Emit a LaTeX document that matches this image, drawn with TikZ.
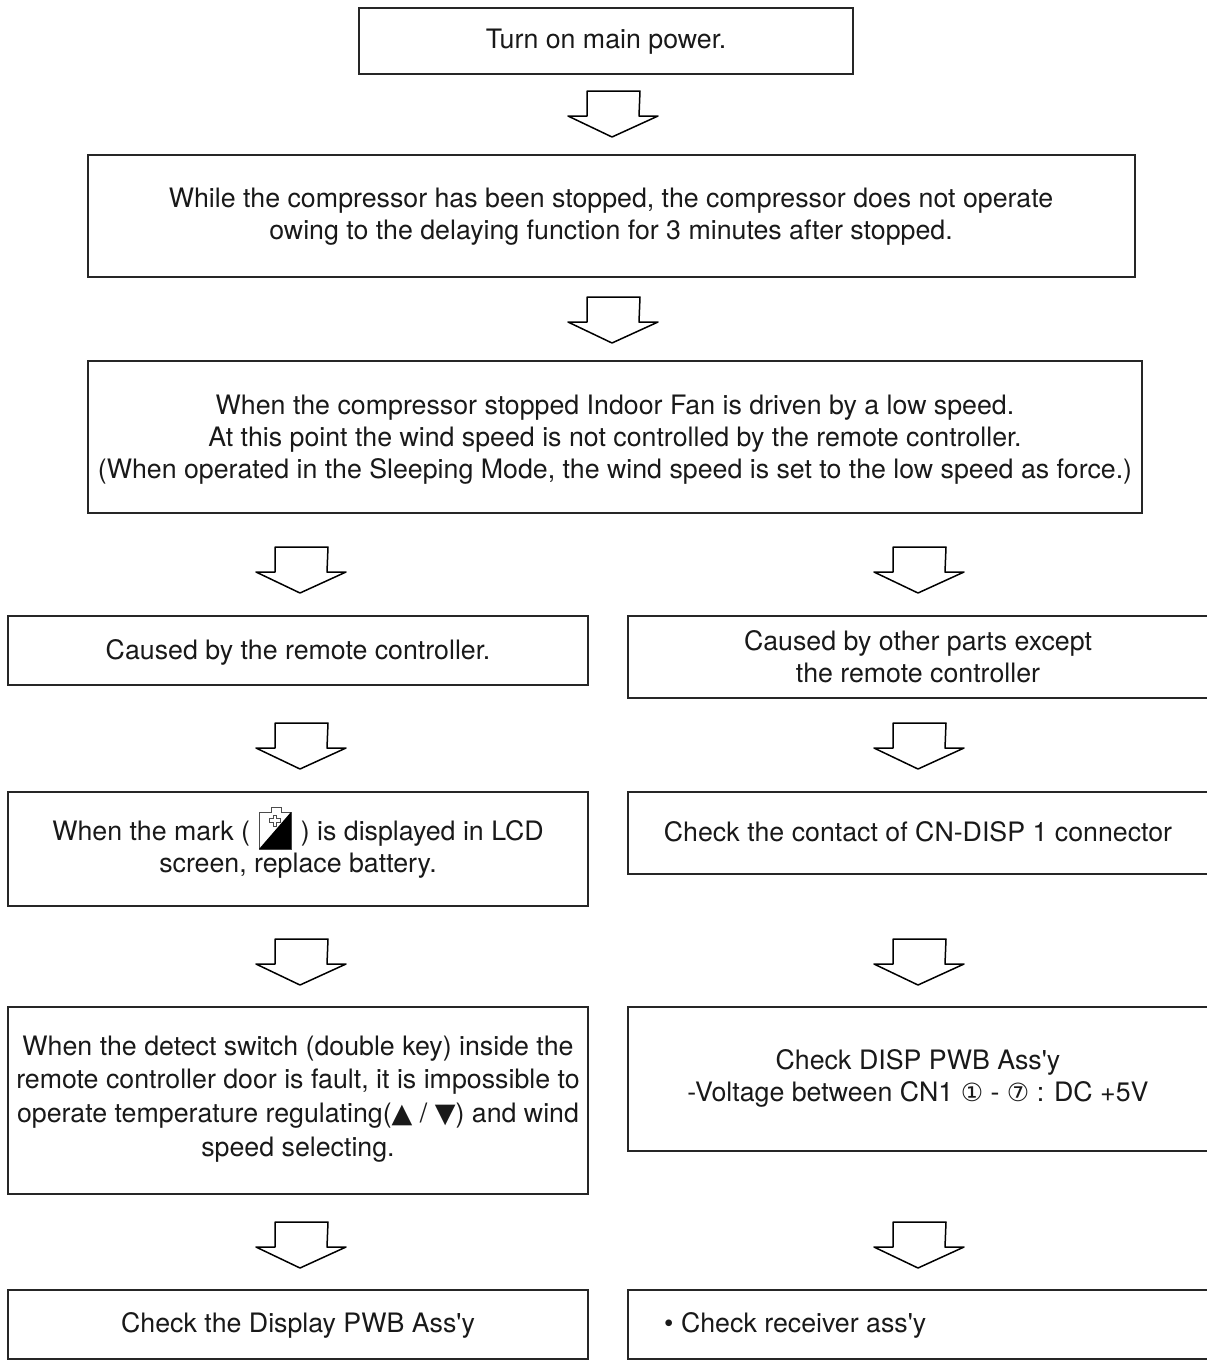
\documentclass[tikz,border=0pt]{standalone}
\usepackage{fontspec}
\newfontfamily\helv{TeX Gyre Heros}
\newfontfamily\symfont{DejaVu Sans}
\tikzset{
  x=1pt,y=-1pt,
  box/.style={draw=black!85,line width=1.1pt,fill=none},
  lab/.style={align=center,font=\helv\fontsize{26.75}{32}\selectfont,inner sep=0pt,text=black!90},
  block/.pic={\draw[line width=1.5pt,line join=round,black] (-25,-25) -- (-25,0) -- (-44,0) -- (0,21) -- (46,0) -- (27,0) -- (28,-25) -- cycle;}
}
\newcommand{\boxat}[5]{%
  \draw[box] (#2,#3) rectangle (#4,#5);
  \coordinate (#1) at ({(#2+#4)/2},{(#3+#5)/2});}
\newcommand{\symb}[2]{{\symfont\fontsize{#1}{32}\selectfont #2}}
\begin{document}
\begin{tikzpicture}
\useasboundingbox (0,0) rectangle (1207,1360);
\boxat{b1}{359}{8}{853}{74}
\boxat{b2}{88}{155}{1135}{277}
\boxat{b3}{88}{361}{1142}{513}
\boxat{l1}{8}{616}{588}{685}
\boxat{l2}{8}{792}{588}{906}
\boxat{l3}{8}{1007}{588}{1194}
\boxat{l4}{8}{1290}{588}{1359}
\draw[box] (1207,616) -- (628,616) -- (628,698) -- (1207,698);
\draw[box] (1207,792) -- (628,792) -- (628,874) -- (1207,874);
\draw[box] (1207,1007) -- (628,1007) -- (628,1151) -- (1207,1151);
\draw[box] (1207,1290) -- (628,1290) -- (628,1359) -- (1207,1359);
\node[lab] (t1) at (606,42) {Turn on main power.};
\node[lab] (t2) at (611,217) {While the compressor has been stopped, the compressor does not operate\\owing to the delaying function for 3 minutes after stopped.};
\node[lab] (t3) at (615,440) {When the compressor stopped Indoor Fan is driven by a low speed.\\At this point the wind speed is not controlled by the remote controller.\\(When operated in the Sleeping Mode, the wind speed is set to the low speed as force.)};
\node[lab] (t4) at (298,652) {Caused by the remote controller.};
\node[lab] (t5) at (918,657) {Caused by other parts except\\the remote controller};
\node[lab] (t6) at (298,849) {When the mark ( \hspace{36pt} ) is displayed in LCD\\screen, replace battery.};
\node[lab] (t7) at (918,832) {Check the contact of CN-DISP 1 connector};
\node[lab,font=\helv\fontsize{26.75}{33.7}\selectfont] (t8) at (298,1099) {When the detect switch (double key) inside the\\remote controller door is fault, it is impossible to\\operate temperature regulating(\symb{27}{▲} / \symb{27}{▼}) and wind\\speed selecting.};
\node[lab] (t9) at (918,1078) {Check DISP PWB Ass'y\\-Voltage between CN1 \symb{25}{①} - \symb{25}{⑦} : DC +5V};
\node[lab] (t10) at (298,1325) {Check the Display PWB Ass'y};
\node[lab,anchor=west] (t11) at (664,1325) {• Check receiver ass'y};
% battery icon
\draw[black!70,line width=.6pt] (259,812) -- (259,849) -- (291,849) -- (291,812) -- (281,812) -- (281,807) -- (271,807) -- (271,812) -- cycle;
\fill[black] (259,849) -- (291,812) -- (291,849) -- cycle;
\draw[black!70,line width=.6pt,fill=white] (269.5,818.5) -| (273,815) -| (276,818.5) -| (280,822) -| (276,826) -| (273,822) -| cycle;
% block arrows
\foreach \x/\y in {612/116,612/322,300/572,918/572,300/748,918/748,300/964,918/964,300/1247,918/1247}
  \pic at (\x,\y) {block};
\end{tikzpicture}
\end{document}
